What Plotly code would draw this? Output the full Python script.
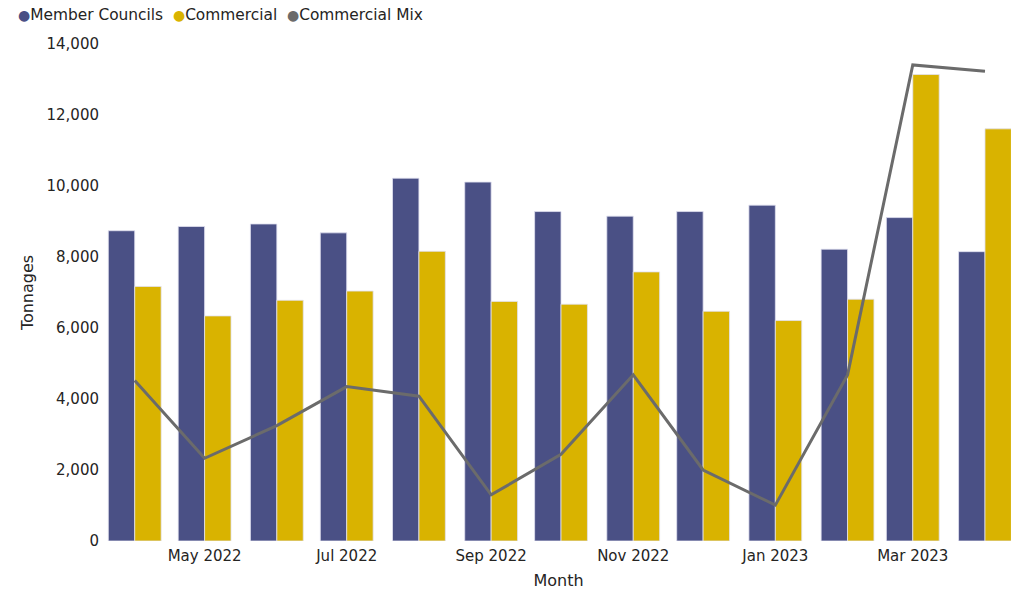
import plotly.graph_objects as go

# Monthly tonnages, April 2022 - April 2023
months = ["2022-04-01", "2022-05-01", "2022-06-01", "2022-07-01", "2022-08-01",
          "2022-09-01", "2022-10-01", "2022-11-01", "2022-12-01", "2023-01-01",
          "2023-02-01", "2023-03-01", "2023-04-01"]
member_councils = [8740, 8860, 8930, 8680, 10220, 10110, 9280, 9150, 9280,
                   9460, 8220, 9110, 8150]
commercial = [7170, 6340, 6780, 7040, 8160, 6750, 6670, 7580, 6470,
              6210, 6810, 13140, 11610]
commercial_mix = [4520, 2330, 3250, 4350, 4080, 1300, 2440, 4680, 2000,
                  1010, 4680, 13410, 13230]

series_names = ["Member Councils", "Commercial", "Commercial Mix"]
series_colors = ["#4A5085", "#D9B300", "#6B6B6B"]

FONT = "DejaVu Sans"
TEXT = "#252423"
BAR_EDGE = "rgba(225,225,240,0.8)"

fig = go.Figure()
fig.add_trace(go.Bar(
    x=months, y=member_councils, name=series_names[0],
    marker=dict(color=series_colors[0], line=dict(color=BAR_EDGE, width=1)),
    showlegend=False,
))
fig.add_trace(go.Bar(
    x=months, y=commercial, name=series_names[1],
    marker=dict(color=series_colors[1], line=dict(color=BAR_EDGE, width=1)),
    showlegend=False,
))
fig.add_trace(go.Scatter(
    x=months, y=commercial_mix, name=series_names[2], mode="lines",
    line=dict(color=series_colors[2], width=3),
    showlegend=False,
))

# Compact legend row: coloured dot followed by the series name
legend_text = " &nbsp;".join(
    f"<span style='color:{c};font-size:14px'>●</span>{n}"
    for n, c in zip(series_names, series_colors)
)
fig.add_annotation(
    text=legend_text, xref="paper", yref="paper",
    x=-0.1, y=1.058, xanchor="left", yanchor="middle",
    showarrow=False, font=dict(family=FONT, size=15.4, color=TEXT),
)

fig.update_layout(
    width=1011, height=594,
    margin=dict(l=106, r=0, t=44, b=53),
    paper_bgcolor="white", plot_bgcolor="white",
    barmode="group", bargap=0.19, bargroupgap=0,
    font=dict(family=FONT, size=15, color=TEXT),
    xaxis=dict(
        type="date",
        range=["2022-03-19 16:00", "2023-04-12 04:00"],
        tick0="2022-05-01", dtick="M2", tickformat="%b %Y",
        showgrid=False, zeroline=False, showline=False, ticks="",
        ticklabelstandoff=4,
        title=dict(text="Month", font=dict(size=16), standoff=10),
    ),
    yaxis=dict(
        range=[0, 14000], dtick=2000, tickformat=",d",
        showgrid=False, zeroline=False, showline=False, ticks="",
        ticklabelstandoff=6,
        title=dict(text="Tonnages", font=dict(size=16), standoff=8),
    ),
)

fig.write_html("out.html")
